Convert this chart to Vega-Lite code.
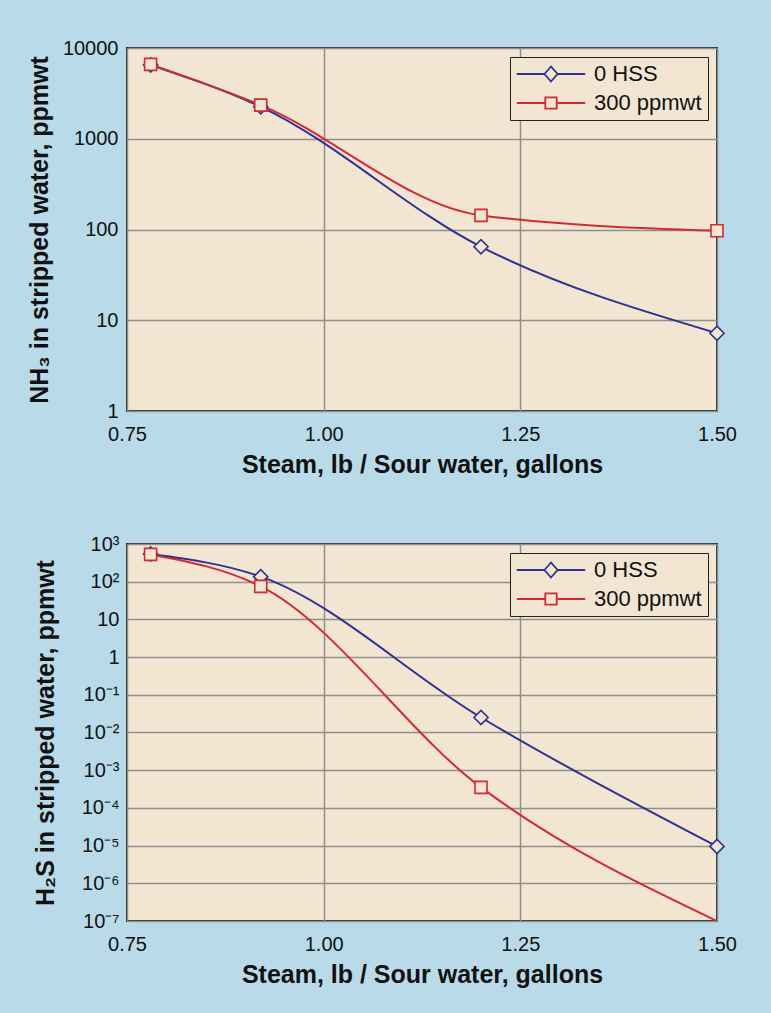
{
  "$schema": "https://vega.github.io/schema/vega-lite/v6.json",
  "background": "#b9dbe9",
  "padding": {"left": 26, "top": 37, "right": 33, "bottom": 26},
  "datasets": {
    "nh3": [
      {"ratio": 0.78, "ppmwt": 6500, "series": "0 HSS"},
      {"ratio": 0.92, "ppmwt": 2250, "series": "0 HSS"},
      {"ratio": 1.20, "ppmwt": 64.5, "series": "0 HSS"},
      {"ratio": 1.50, "ppmwt": 7.2, "series": "0 HSS"},
      {"ratio": 0.78, "ppmwt": 6600, "series": "300 ppmwt"},
      {"ratio": 0.92, "ppmwt": 2350, "series": "300 ppmwt"},
      {"ratio": 1.20, "ppmwt": 143, "series": "300 ppmwt"},
      {"ratio": 1.50, "ppmwt": 97, "series": "300 ppmwt"}
    ],
    "h2s": [
      {"ratio": 0.78, "ppmwt": 541, "series": "0 HSS"},
      {"ratio": 0.92, "ppmwt": 136, "series": "0 HSS"},
      {"ratio": 1.20, "ppmwt": 0.025, "series": "0 HSS"},
      {"ratio": 1.50, "ppmwt": 0.0000095, "series": "0 HSS"},
      {"ratio": 0.78, "ppmwt": 530, "series": "300 ppmwt"},
      {"ratio": 0.92, "ppmwt": 75, "series": "300 ppmwt"},
      {"ratio": 1.20, "ppmwt": 0.00035, "series": "300 ppmwt"},
      {"ratio": 1.50, "ppmwt": 0.0000001, "series": "300 ppmwt"}
    ]
  },
  "config": {
    "font": "Liberation Sans",
    "view": {"fill": "#f2e6d3", "stroke": "#2a2a2a", "strokeWidth": 2},
    "axis": {
      "domain": false,
      "ticks": false,
      "grid": true,
      "gridColor": "#8e8e8e",
      "gridWidth": 1.5,
      "labelFlush": false,
      "labelOverlap": false,
      "labelFont": "Liberation Sans",
      "labelFontSize": 20,
      "labelColor": "#111111",
      "titleFont": "Liberation Sans",
      "titleFontWeight": "bold",
      "titleColor": "#111111"
    },
    "legend": {
      "orient": "top-right",
      "offset": 9,
      "title": null,
      "fillColor": "#f2e6d3",
      "strokeColor": "#222222",
      "padding": 6,
      "labelFont": "Liberation Sans",
      "labelFontSize": 22,
      "labelColor": "#111111",
      "symbolSize": 144,
      "symbolOffset": 24,
      "labelOffset": 32,
      "rowPadding": 6
    }
  },
  "vconcat": [
    {
      "width": 590,
      "height": 363,
      "data": {"name": "nh3"},
      "encoding": {
        "x": {
          "field": "ratio", "type": "quantitative",
          "scale": {"domain": [0.75, 1.5], "nice": false, "zero": false},
          "axis": {"values": [0.75, 1.0, 1.25, 1.5], "format": ".2f", "title": "Steam, lb / Sour water, gallons", "titleFontSize": 25, "labelPadding": 13, "titlePadding": 8}
        },
        "y": {
          "field": "ppmwt", "type": "quantitative",
          "scale": {"type": "log", "domain": [1, 10000], "nice": false},
          "axis": {"values": [1, 10, 100, 1000, 10000], "format": "d", "title": "NH₃ in stripped water, ppmwt", "titleFontSize": 25, "labelPadding": 9, "titlePadding": 10}
        },
        "color": {
          "field": "series", "type": "nominal",
          "scale": {"domain": ["0 HSS", "300 ppmwt"], "range": ["#2e3192", "#d12a33"]},
          "legend": {
            "encode": {
              "symbols": {
                "update": {
                  "shape": {"signal": "datum.value === '0 HSS' ? 'M-5.7,0H-1.1M1.1,0H5.7M-1.1,0L0,-1.25L1.1,0L0,1.25Z' : 'M-5.7,0H-0.95M0.95,0H5.7M-0.95,-0.95H0.95V0.95H-0.95Z'"},
                  "fill": {"value": "#f2e6d3"},
                  "strokeWidth": {"value": 1.8},
                  "opacity": {"value": 1}
                }
              }
            }
          }
        }
      },
      "layer": [
        {
          "mark": {"type": "line", "interpolate": "monotone", "strokeWidth": 2}
        },
        {
          "transform": [{"filter": "datum.series === '0 HSS'"}],
          "mark": {"type": "point", "shape": "diamond", "size": 200, "filled": false, "fill": "#f2e6d3", "strokeWidth": 1.6, "opacity": 1}
        },
        {
          "transform": [{"filter": "datum.series === '300 ppmwt'"}],
          "mark": {"type": "point", "shape": "square", "size": 144, "filled": false, "fill": "#f2e6d3", "strokeWidth": 1.6, "opacity": 1}
        }
      ]
    },
    {
      "width": 590,
      "height": 377,
      "data": {"name": "h2s"},
      "encoding": {
        "x": {
          "field": "ratio", "type": "quantitative",
          "scale": {"domain": [0.75, 1.5], "nice": false, "zero": false},
          "axis": {"values": [0.75, 1.0, 1.25, 1.5], "format": ".2f", "title": "Steam, lb / Sour water, gallons", "titleFontSize": 25, "labelPadding": 13, "titlePadding": 8}
        },
        "y": {
          "field": "ppmwt", "type": "quantitative",
          "scale": {"type": "log", "domain": [0.0000001, 1000], "nice": false},
          "axis": {
            "values": [0.0000001, 0.000001, 0.00001, 0.0001, 0.001, 0.01, 0.1, 1, 10, 100, 1000],
            "labelExpr": "abs(datum.value - 10) < 0.001 ? '10' : abs(datum.value - 1) < 0.0001 ? '1' : '10' + (datum.value < 1 ? '⁻' : '') + ['⁰','¹','²','³','⁴','⁵','⁶','⁷','⁸','⁹'][abs(round(log(datum.value) / LN10))]",
            "title": "H₂S in stripped water, ppmwt", "titleFontSize": 25, "labelPadding": 8, "titlePadding": 23
          }
        },
        "color": {
          "field": "series", "type": "nominal",
          "scale": {"domain": ["0 HSS", "300 ppmwt"], "range": ["#2e3192", "#d12a33"]},
          "legend": {
            "encode": {
              "symbols": {
                "update": {
                  "shape": {"signal": "datum.value === '0 HSS' ? 'M-5.7,0H-1.1M1.1,0H5.7M-1.1,0L0,-1.25L1.1,0L0,1.25Z' : 'M-5.7,0H-0.95M0.95,0H5.7M-0.95,-0.95H0.95V0.95H-0.95Z'"},
                  "fill": {"value": "#f2e6d3"},
                  "strokeWidth": {"value": 1.8},
                  "opacity": {"value": 1}
                }
              }
            }
          }
        }
      },
      "layer": [
        {
          "mark": {"type": "line", "interpolate": "monotone", "strokeWidth": 2, "clip": true}
        },
        {
          "transform": [{"filter": "datum.series === '0 HSS'"}],
          "mark": {"type": "point", "shape": "diamond", "size": 200, "filled": false, "fill": "#f2e6d3", "strokeWidth": 1.6, "opacity": 1}
        },
        {
          "transform": [{"filter": "datum.series === '300 ppmwt' && datum.ppmwt > 0.00000011"}],
          "mark": {"type": "point", "shape": "square", "size": 144, "filled": false, "fill": "#f2e6d3", "strokeWidth": 1.6, "opacity": 1}
        }
      ]
    }
  ],
  "spacing": 55,
  "resolve": {"scale": {"color": "independent"}, "legend": {"color": "independent"}}
}
